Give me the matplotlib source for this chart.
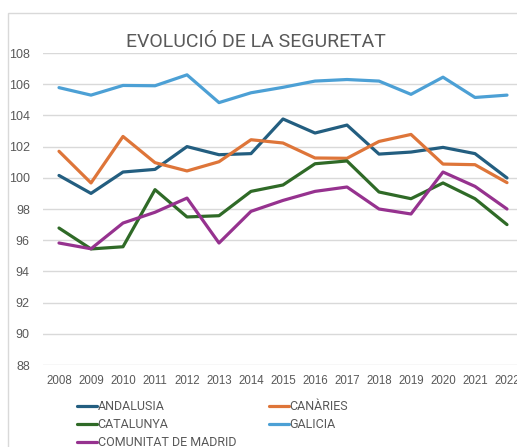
import matplotlib
matplotlib.use("Agg")
import matplotlib.pyplot as plt
from matplotlib.patches import Rectangle

years = [str(y) for y in range(2008, 2023)]
andalusia = [100.15, 99.0, 100.37, 100.54, 102.0, 101.48, 101.55, 103.77, 102.87, 103.38, 101.52, 101.65, 101.95, 101.55, 99.99]
canaries = [101.7, 99.67, 102.65, 100.97, 100.44, 101.03, 102.44, 102.23, 101.27, 101.25, 102.33, 102.78, 100.88, 100.84, 99.69]
catalunya = [96.78, 95.44, 95.58, 99.24, 97.49, 97.57, 99.13, 99.54, 100.9, 101.08, 99.09, 98.66, 99.67, 98.66, 97.0]
galicia = [105.78, 105.3, 105.92, 105.9, 106.6, 104.82, 105.45, 105.8, 106.2, 106.3, 106.2, 105.35, 106.45, 105.15, 105.3]
madrid = [95.82, 95.45, 97.1, 97.79, 98.7, 95.82, 97.85, 98.55, 99.13, 99.41, 98.0, 97.68, 100.37, 99.45, 98.0]

names = ["ANDALUSIA", "CANÀRIES", "CATALUNYA", "GALICIA", "COMUNITAT DE MADRID"]
series = [andalusia, canaries, catalunya, galicia, madrid]
colors = ["#235E80", "#DE7539", "#2F6A27", "#4CA0D5", "#96328F"]

W, H = 517, 447
fig = plt.figure(figsize=(W / 100, H / 100), dpi=100)
ax = fig.add_axes([43 / W, 1 - 365 / H, 480 / W, 312 / H])

# outer chart border (cut off on right/bottom like the reference)
fig.patches.append(Rectangle((8 / W, -0.1), 1.2, 1 - 13 / H + 0.1, transform=fig.transFigure,
                             fill=False, edgecolor="#D9D9D9", lw=1))

lines = {}
x = range(len(years))
for name, vals, c in zip(names, series, colors):
    ln, = ax.plot(x, vals, color=c, lw=2.3, solid_joinstyle="round", solid_capstyle="round", label=name)
    lines[name] = ln

ax.set_xlim(-0.5, len(years) - 0.5)
ax.set_ylim(88, 108)
ax.set_yticks(range(88, 109, 2))
ax.set_xticks(list(x))
ax.set_xticklabels(years)
ax.grid(axis="y", color="#D9D9D9", lw=1)
ax.set_axisbelow(True)
for s in ax.spines.values():
    s.set_visible(False)
ax.tick_params(length=0, colors="#595959")
ax.tick_params(axis="y", labelsize=9, pad=9.5)
ax.tick_params(axis="x", labelsize=8.3, pad=7)
for lab in ax.get_xticklabels() + ax.get_yticklabels():
    lab.set_family("Liberation Sans")

fig.text(0.495, 1 - 42 / H, "EVOLUCIÓ DE LA SEGURETAT", ha="center", va="center",
         fontsize=14, color="#595959", family="Roboto")

order = ["ANDALUSIA", "CATALUNYA", "COMUNITAT DE MADRID", "CANÀRIES", "GALICIA"]
fig.legend([lines[n] for n in order], order, ncol=2, frameon=False,
           loc="upper left", bbox_to_anchor=(77 / W, 1 - 400 / H),
           borderpad=0, handlelength=1.6, handletextpad=0.05, columnspacing=2.6,
           labelspacing=0.42, borderaxespad=0,
           prop={"family": "Roboto", "size": 9},
           labelcolor="#595959")

fig.savefig("out.png", dpi=100)
